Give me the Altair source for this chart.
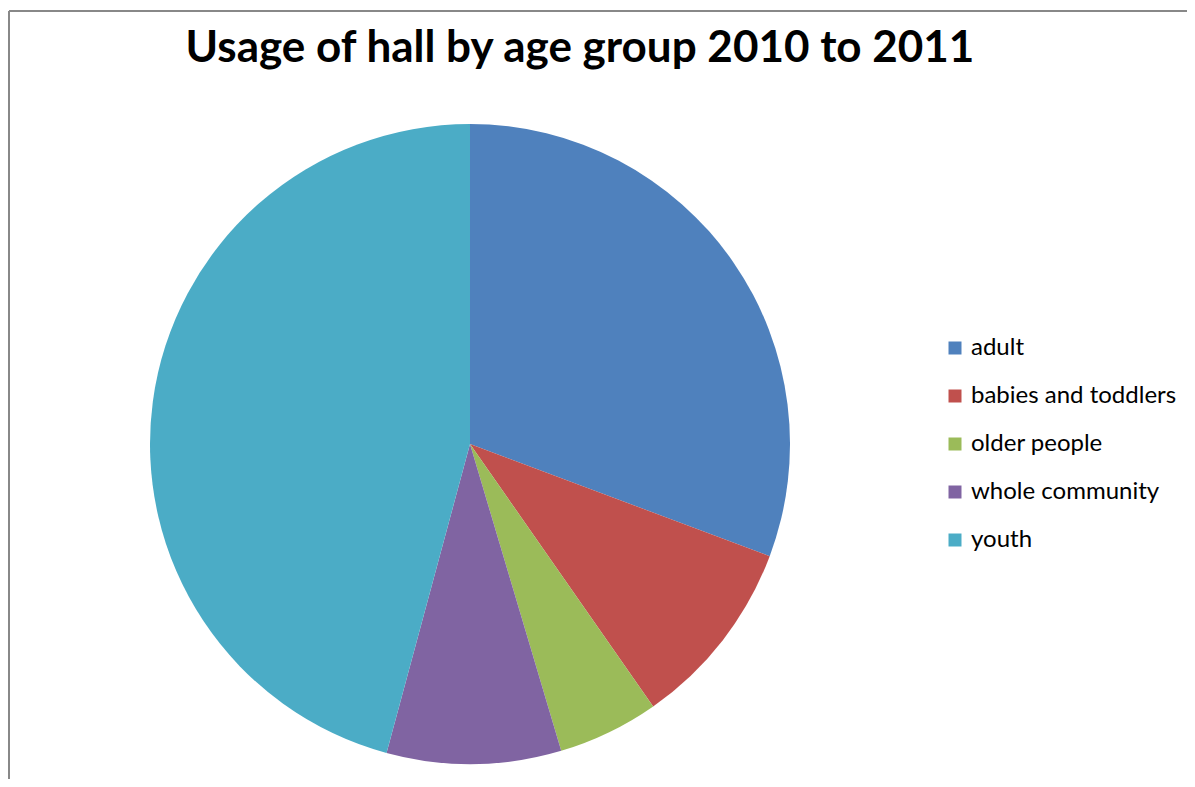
import altair as alt
import pandas as pd

categories = ["adult", "babies and toddlers", "older people", "whole community", "youth"]
values = [30.7, 9.6, 5.1, 8.8, 45.8]
colors = ["#4F81BD", "#C0504D", "#9BBB59", "#8064A2", "#4BACC6"]
title_text = "Usage of hall by age group 2010 to 2011"

df = pd.DataFrame({"category": categories, "value": values, "order": list(range(len(categories)))})

pie = alt.Chart(df).mark_arc(outerRadius=320, stroke=None).encode(
    theta=alt.Theta("value:Q", stack=True),
    order=alt.Order("order:Q"),
    color=alt.Color(
        "category:N",
        scale=alt.Scale(domain=categories, range=colors),
        legend=alt.Legend(
            title=None,
            orient="none",
            legendX=935,
            legendY=328,
            symbolType="square",
            symbolSize=169,
            symbolStrokeWidth=0,
            labelFont="Lato",
            labelFontSize=24,
            labelColor="#000000",
            labelLimit=0,
            rowPadding=24,
            labelOffset=4,
        ),
    ),
    x=alt.value(462),
    y=alt.value(436),
)

title = alt.Chart(pd.DataFrame({"t": [title_text]})).mark_text(
    font="Lato", fontSize=44, fontWeight="bold", color="#000000", align="center", baseline="alphabetic"
).encode(text="t:N", x=alt.value(572), y=alt.value(54))

left_border = alt.Chart(pd.DataFrame({"a": [0]})).mark_rule(color="#888888", strokeWidth=2).encode(
    x=alt.value(1), y=alt.value(3), y2=alt.value(800)
)
top_border = alt.Chart(pd.DataFrame({"a": [0]})).mark_rule(color="#888888", strokeWidth=2).encode(
    y=alt.value(3), x=alt.value(1), x2=alt.value(1200)
)

chart = alt.layer(pie, title, left_border, top_border).properties(
    width=1179, height=771, padding=0, autosize=alt.AutoSizeParams(type="none")
).configure_view(stroke=None)

chart.save("out.html", embed_options={"renderer": "svg", "actions": False})
